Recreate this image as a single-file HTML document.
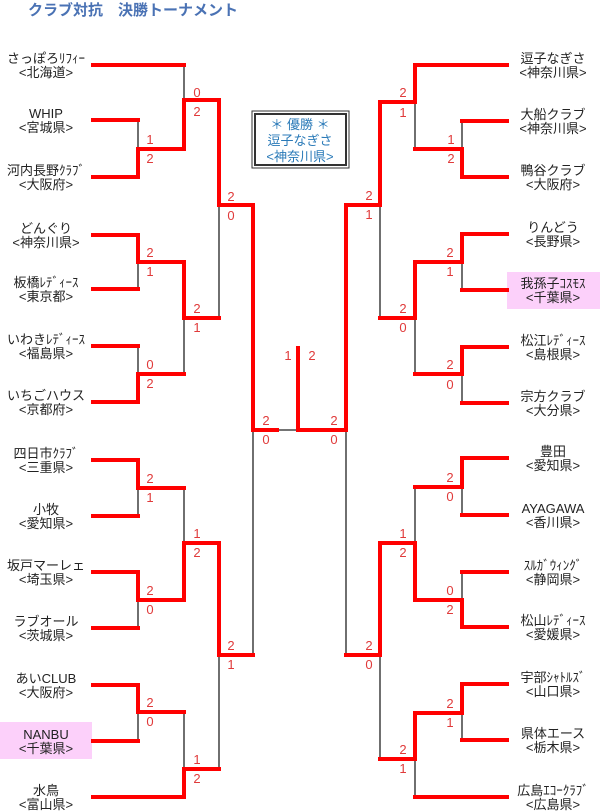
<!DOCTYPE html>
<html><head><meta charset="utf-8"><style>
html,body{margin:0;padding:0;background:#fff;width:600px;height:812px;overflow:hidden}
svg{display:block}
.t{font-family:"Liberation Sans","Noto Sans CJK JP",sans-serif;font-size:13px;fill:#222;text-anchor:middle}
.s{font-family:"Liberation Sans",sans-serif;font-size:13px;fill:#e03a3a;text-anchor:middle}
.k{stroke:#222;stroke-width:1.3;fill:none}
.r{stroke:#ff0000;stroke-width:4;fill:none;stroke-linejoin:miter;stroke-linecap:square}
</style></head><body>
<svg width="600" height="812" viewBox="0 0 600 812" xmlns="http://www.w3.org/2000/svg">
<text x="28" y="15" style="font-family:'Liberation Sans','Noto Sans CJK JP',sans-serif;font-size:15px;font-weight:bold;fill:#4a72b4">クラブ対抗　決勝トーナメント</text>

<rect x="0" y="722" width="92" height="37" fill="#fcd0fa"/>
<rect x="507" y="272" width="93" height="37" fill="#fcd0fa"/>

<rect x="252" y="111" width="97" height="57" fill="#fff" stroke="#333" stroke-width="1"/>
<rect x="255" y="114" width="91" height="51" fill="#fff" stroke="#333" stroke-width="2"/>
<g style="font-family:'Liberation Sans','Noto Sans CJK JP',sans-serif;font-size:13px;fill:#2a7ab8;text-anchor:middle">
<text x="300" y="129">＊ 優勝 ＊</text>
<text x="300" y="145">逗子なぎさ</text>
<text x="300" y="161">&lt;神奈川県&gt;</text>
</g>

<g class="k">
<path d="M138 120V177M138 235V289M138 346V402M138 460V516M138 572V628M138 685V741"/>
<path d="M138 149H184M138 262H184M138 374H184M138 488H184M138 600H184M138 712H184"/>
<path d="M184 65V149M184 262V374M184 488V600M184 712V797"/>
<path d="M184 100H219M184 318H219M184 543H219M184 769H219"/>
<path d="M219 100V318M219 543V769M219 205H253M219 655H253M253 205V655M253 430H298"/>
<path d="M462 121V177M462 234V290M462 347V403M462 458V515M462 572V627M462 684V740"/>
<path d="M462 149H415M462 262H415M462 374H415M462 487H415M462 600H415M462 713H415"/>
<path d="M415 65V149M415 262V374M415 487V600M415 713V797"/>
<path d="M415 102H380M415 318H380M415 543H380M415 759H380"/>
<path d="M380 102V318M380 543V759M380 205H346M380 655H346M346 205V655M346 430H298"/>
</g>

<g class="r">
<path d="M93 65H184M93 120H138M93 177H138M93 235H138M93 289H138M93 346H138M93 402H138M93 460H138M93 516H138M93 572H138M93 628H138M93 685H138M93 741H138M93 797H184"/>
<path d="M138 177V149H184V100H219V205H253V430H277"/>
<path d="M138 235V262H184V318H219"/>
<path d="M138 402V374H184"/>
<path d="M138 460V488H184"/>
<path d="M138 572V600H184V543H219V655H253"/>
<path d="M138 685V712H184"/>
<path d="M184 797V769H219"/>
<path d="M507 65H415M507 121H462M507 177H462M507 234H462M507 290H462M507 347H462M507 403H462M507 458H462M507 515H462M507 572H462M507 627H462M507 684H462M507 740H462M507 797H415"/>
<path d="M415 65V102H380V205H346V430H298V348"/>
<path d="M462 177V149H415"/>
<path d="M462 234V262H415V318H380"/>
<path d="M462 347V374H415"/>
<path d="M462 458V487H415"/>
<path d="M462 627V600H415V543H380V655H346"/>
<path d="M462 684V713H415V759H380"/>
</g>

<g class="s">
<text x="150" y="144">1</text><text x="150" y="163">2</text>
<text x="197" y="97">0</text><text x="197" y="116">2</text>
<text x="150" y="257">2</text><text x="150" y="276">1</text>
<text x="150" y="369">0</text><text x="150" y="388">2</text>
<text x="197" y="313">2</text><text x="197" y="332">1</text>
<text x="231" y="201">2</text><text x="231" y="220">0</text>
<text x="150" y="483">2</text><text x="150" y="502">1</text>
<text x="150" y="595">2</text><text x="150" y="614">0</text>
<text x="197" y="538">1</text><text x="197" y="557">2</text>
<text x="150" y="707">2</text><text x="150" y="726">0</text>
<text x="197" y="764">1</text><text x="197" y="783">2</text>
<text x="231" y="650">2</text><text x="231" y="669">1</text>
<text x="266" y="425">2</text><text x="266" y="444">0</text>
<text x="288" y="360">1</text><text x="312" y="360">2</text>
<text x="451" y="144">1</text><text x="451" y="163">2</text>
<text x="403" y="97">2</text><text x="403" y="117">1</text>
<text x="450" y="257">2</text><text x="450" y="276">1</text>
<text x="450" y="369">2</text><text x="450" y="389">0</text>
<text x="403" y="313">2</text><text x="403" y="332">0</text>
<text x="369" y="200">2</text><text x="369" y="219">1</text>
<text x="450" y="482">2</text><text x="450" y="501">0</text>
<text x="450" y="595">0</text><text x="450" y="614">2</text>
<text x="403" y="538">1</text><text x="403" y="557">2</text>
<text x="450" y="708">2</text><text x="450" y="727">1</text>
<text x="403" y="754">2</text><text x="403" y="773">1</text>
<text x="369" y="650">2</text><text x="369" y="669">0</text>
<text x="334" y="425">2</text><text x="334" y="444">0</text>
</g>

<g class="t">
<text x="46" y="63">さっぽろﾘﾌｨｰ</text><text x="46" y="77">&lt;北海道&gt;</text>
<text x="46" y="118">WHIP</text><text x="46" y="132">&lt;宮城県&gt;</text>
<text x="46" y="175">河内長野ｸﾗﾌﾞ</text><text x="46" y="189">&lt;大阪府&gt;</text>
<text x="46" y="233">どんぐり</text><text x="46" y="247">&lt;神奈川県&gt;</text>
<text x="46" y="287">板橋ﾚﾃﾞｨｰｽ</text><text x="46" y="301">&lt;東京都&gt;</text>
<text x="46" y="344">いわきﾚﾃﾞｨｰｽ</text><text x="46" y="358">&lt;福島県&gt;</text>
<text x="46" y="400">いちごハウス</text><text x="46" y="414">&lt;京都府&gt;</text>
<text x="46" y="458">四日市ｸﾗﾌﾞ</text><text x="46" y="472">&lt;三重県&gt;</text>
<text x="46" y="514">小牧</text><text x="46" y="528">&lt;愛知県&gt;</text>
<text x="46" y="570">坂戸マーレェ</text><text x="46" y="584">&lt;埼玉県&gt;</text>
<text x="46" y="626">ラブオール</text><text x="46" y="640">&lt;茨城県&gt;</text>
<text x="46" y="683">あいCLUB</text><text x="46" y="697">&lt;大阪府&gt;</text>
<text x="46" y="739">NANBU</text><text x="46" y="753">&lt;千葉県&gt;</text>
<text x="46" y="795">水鳥</text><text x="46" y="809">&lt;富山県&gt;</text>
<text x="553" y="63">逗子なぎさ</text><text x="553" y="77">&lt;神奈川県&gt;</text>
<text x="553" y="119">大船クラブ</text><text x="553" y="133">&lt;神奈川県&gt;</text>
<text x="553" y="175">鴨谷クラブ</text><text x="553" y="189">&lt;大阪府&gt;</text>
<text x="553" y="232">りんどう</text><text x="553" y="246">&lt;長野県&gt;</text>
<text x="553" y="288">我孫子ｺｽﾓｽ</text><text x="553" y="302">&lt;千葉県&gt;</text>
<text x="553" y="345">松江ﾚﾃﾞｨｰｽ</text><text x="553" y="359">&lt;島根県&gt;</text>
<text x="553" y="401">宗方クラブ</text><text x="553" y="415">&lt;大分県&gt;</text>
<text x="553" y="456">豊田</text><text x="553" y="470">&lt;愛知県&gt;</text>
<text x="553" y="513">AYAGAWA</text><text x="553" y="527">&lt;香川県&gt;</text>
<text x="553" y="570">ｽﾙｶﾞｳｨﾝｸﾞ</text><text x="553" y="584">&lt;静岡県&gt;</text>
<text x="553" y="625">松山ﾚﾃﾞｨｰｽ</text><text x="553" y="639">&lt;愛媛県&gt;</text>
<text x="553" y="682">宇部ｼｬﾄﾙｽﾞ</text><text x="553" y="696">&lt;山口県&gt;</text>
<text x="553" y="738">県体エース</text><text x="553" y="752">&lt;栃木県&gt;</text>
<text x="553" y="795">広島ｴｺｰｸﾗﾌﾞ</text><text x="553" y="809">&lt;広島県&gt;</text>
</g>
</svg>
</body></html>
